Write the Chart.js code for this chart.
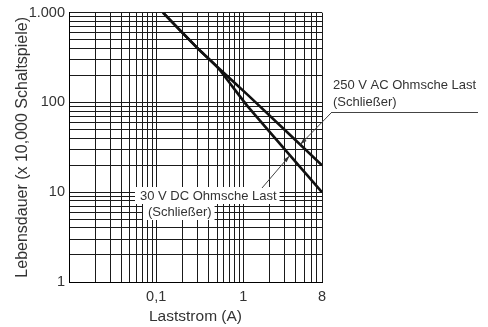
<!DOCTYPE html>
<html lang="de">
<head>
<meta charset="UTF-8" />
<title>Lebensdauer</title>
<script src="https://cdn.jsdelivr.net/npm/chart.js"></script>
<style>
  html, body { margin: 0; padding: 0; background: #fff; }
  #wrap { width: 488px; height: 327px; }
</style>
</head>
<body>
<div id="wrap"><canvas id="chart"></canvas></div>
<script>
  // Laststrom (A) -> Lebensdauer (x 10.000 Schaltspiele)
  const acCurrent = [0.12, 0.3, 0.5, 1.14, 8];
  const acLife    = [1000, 400, 250, 120, 20];
  const dcCurrent = [0.12, 0.3, 0.5, 1.1, 8];
  const dcLife    = [1000, 400, 250, 93, 10];

  // log grid lines and the few labelled ticks
  const xGrid = [0.01, 0.02, 0.03, 0.04, 0.05, 0.06, 0.07, 0.08, 0.09,
                 0.1, 0.2, 0.3, 0.4, 0.5, 0.6, 0.7, 0.8, 0.9,
                 1, 2, 3, 4, 5, 6, 7, 8];
  const yGrid = [1, 2, 3, 4, 5, 6, 7, 8, 9,
                 10, 20, 30, 40, 50, 60, 70, 80, 90,
                 100, 200, 300, 400, 500, 600, 700, 800, 900, 1000];
  const xTickValues = [0.1, 1, 8];
  const xTickLabels = ['0,1', '1', '8'];
  const yTickValues = [1, 10, 100, 1000];
  const yTickLabels = ['1', '10', '100', '1.000'];

  const FONT = '"Liberation Sans", Arial, Helvetica, sans-serif';
  const TEXT = '#333';
  const GRID = '#1a1a1a';
  const CURVE = '#111';

  function labelFor(values, labels, v) {
    const i = values.findIndex(t => Math.abs(t - v) / t < 1e-6);
    return i < 0 ? '' : labels[i];
  }

  // callouts: text position in px, arrow tip in data units
  const notes = [
    { lines: [['250 V AC Ohmsche Last', 333, 85], ['(Schließer)', 333, 102]],
      box: false, rule: [332, 478, 112], from: [332, 112], tip: { x: 4.5, y: 34 } },
    { lines: [['30 V DC Ohmsche Last', 140, 196], ['(Schließer)', 148, 212]],
      box: true, from: [262, 188], tip: { x: 3.4, y: 25.5 } }
  ];

  const callouts = {
    id: 'callouts',
    afterDraw(chart) {
      const ctx = chart.ctx;
      const xs = chart.scales.x, ys = chart.scales.y;
      ctx.save();
      ctx.font = '13px ' + FONT;
      ctx.textBaseline = 'middle';
      ctx.textAlign = 'left';
      notes.forEach(n => {
        if (n.box) {
          n.lines.forEach(([t, x, y]) => {
            const w = ctx.measureText(t).width;
            ctx.fillStyle = '#fff';
            ctx.fillRect(x - 5, y - 9, w + 8, 17);
          });
        }
        ctx.fillStyle = TEXT;
        n.lines.forEach(([t, x, y]) => ctx.fillText(t, x, y));

        ctx.strokeStyle = '#444';
        ctx.lineWidth = 1;
        if (n.rule) {
          ctx.beginPath();
          ctx.moveTo(n.rule[0], n.rule[2] + 0.5);
          ctx.lineTo(n.rule[1], n.rule[2] + 0.5);
          ctx.stroke();
        }
        const tx = xs.getPixelForValue(n.tip.x);
        const ty = ys.getPixelForValue(n.tip.y);
        const [fx, fy] = n.from;
        ctx.beginPath();
        ctx.moveTo(fx, fy);
        ctx.lineTo(tx, ty);
        ctx.stroke();
        // small arrow head
        const a = Math.atan2(ty - fy, tx - fx);
        ctx.fillStyle = '#333';
        ctx.beginPath();
        ctx.moveTo(tx, ty);
        ctx.lineTo(tx - 7 * Math.cos(a) + 2 * Math.sin(a), ty - 7 * Math.sin(a) - 2 * Math.cos(a));
        ctx.lineTo(tx - 7 * Math.cos(a) - 2 * Math.sin(a), ty - 7 * Math.sin(a) + 2 * Math.cos(a));
        ctx.closePath();
        ctx.fill();
      });
      ctx.restore();
    }
  };

  const toPoints = (xs, ys) => xs.map((x, i) => ({ x: x, y: ys[i] }));

  new Chart(document.getElementById('chart'), {
    type: 'scatter',
    data: {
      datasets: [
        { label: '250 V AC Ohmsche Last', data: toPoints(acCurrent, acLife),
          borderColor: CURVE, backgroundColor: CURVE },
        { label: '30 V DC Ohmsche Last', data: toPoints(dcCurrent, dcLife),
          borderColor: CURVE, backgroundColor: CURVE }
      ]
    },
    options: {
      responsive: true,
      maintainAspectRatio: false,
      animation: false,
      layout: { padding: { top: 12, right: 166, left: 0, bottom: 0 } },
      datasets: {
        scatter: {
          showLine: true,
          borderWidth: 2.6,
          pointRadius: 0,
          tension: 0.15
        }
      },
      plugins: {
        legend: { display: false },
        tooltip: { enabled: false }
      },
      scales: {
        x: {
          type: 'logarithmic',
          min: 0.01,
          max: 8,
          afterBuildTicks: s => { s.ticks = xGrid.map(v => ({ value: v })); },
          afterFit: s => { s.height = 45; },
          grid: { color: GRID, lineWidth: 1, drawTicks: false },
          border: { color: '#000', width: 1 },
          ticks: {
            autoSkip: false, maxRotation: 0, padding: 6,
            color: TEXT, font: { family: FONT, size: 14.5 },
            callback: v => labelFor(xTickValues, xTickLabels, v)
          },
          title: {
            display: true, text: 'Laststrom (A)', color: TEXT,
            font: { family: FONT, size: 15.5 }, padding: { top: 0, bottom: 1 }
          }
        },
        y: {
          type: 'logarithmic',
          min: 1,
          max: 1000,
          afterBuildTicks: s => { s.ticks = yGrid.map(v => ({ value: v })); },
          afterFit: s => { s.width = 69; },
          grid: { color: GRID, lineWidth: 1, drawTicks: false },
          border: { color: '#000', width: 1 },
          ticks: {
            autoSkip: false, padding: 4,
            color: TEXT, font: { family: FONT, size: 14.5 },
            callback: v => labelFor(yTickValues, yTickLabels, v)
          },
          title: {
            display: true, text: 'Lebensdauer (x 10,000 Schaltspiele)', color: TEXT,
            font: { family: FONT, size: 16 }, padding: { top: 13, bottom: 0 }
          }
        }
      }
    },
    plugins: [callouts]
  });
</script>
</body>
</html>
